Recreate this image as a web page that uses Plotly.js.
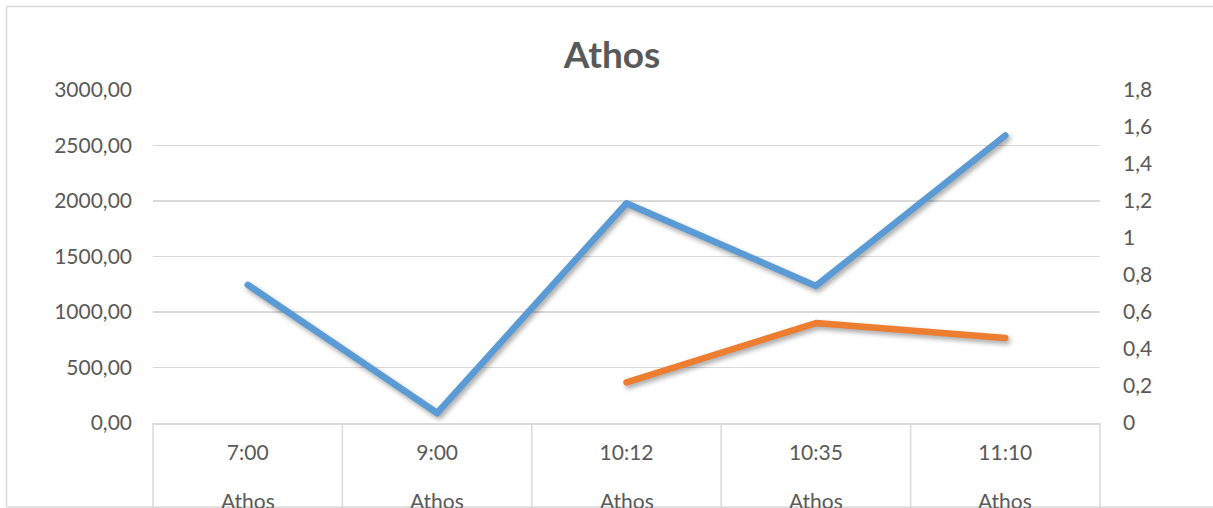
<!DOCTYPE html>
<html>
<head>
<meta charset="utf-8">
<script src="https://cdn.plot.ly/plotly-3.0.1.min.js"></script>
<style>
  html, body { margin: 0; padding: 0; background: #fff; }
  #chart { width: 1213px; height: 508px; }
  .scatterlayer .js-line {
    stroke-linecap: round !important;
    stroke-linejoin: round !important;
    filter: drop-shadow(2px 3px 2.5px rgba(0,0,0,0.35));
  }
</style>
</head>
<body>
<div id="chart"></div>
<script>
const categories = ['7:00', '9:00', '10:12', '10:35', '11:10'];
const groupLabels = ['Athos', 'Athos', 'Athos', 'Athos', 'Athos'];
const blueValues = [1245, 90, 1980, 1235, 2590];
const orangeValues = [null, null, 0.22, 0.54, 0.46];
const chartTitle = 'Athos';

const W = 1213, H = 508;
const M = { l: 153, r: 113, t: 90, b: 85 };
const pw = W - M.l - M.r, ph = H - M.t - M.b;
const textColor = '#595959';
const gridColor = '#D9D9D9';
const fontFamily = 'Lato, "Open Sans", sans-serif';

const idx = categories.map((c, i) => i);

const traces = [
  {
    x: idx, y: blueValues, type: 'scatter', mode: 'lines',
    line: { color: '#5B9BD5', width: 6.5 }, yaxis: 'y', hoverinfo: 'skip'
  },
  {
    x: idx, y: orangeValues, type: 'scatter', mode: 'lines',
    line: { color: '#ED7D31', width: 6.5 }, yaxis: 'y2', connectgaps: false, hoverinfo: 'skip'
  }
];

const shapes = [];
// category box dividers
for (let i = 0; i <= categories.length; i++) {
  shapes.push({
    type: 'line', xref: 'x domain', yref: 'paper',
    x0: i / categories.length, x1: i / categories.length,
    y0: 0, y1: -(M.b + 5) / ph,
    line: { color: gridColor, width: 1.5 }
  });
}
// outer chart border (left, top, bottom visible)
const bx0 = (6.5 - M.l) / pw, bx1 = (W + 60 - M.l) / pw;
const byTop = 1 + (M.t - 6.5) / ph, byBot = -(507 - (M.t + ph)) / ph;
shapes.push({ type: 'line', xref: 'paper', yref: 'paper', x0: bx0, x1: bx0, y0: byBot, y1: byTop, line: { color: gridColor, width: 1.5 } });
shapes.push({ type: 'line', xref: 'paper', yref: 'paper', x0: bx0, x1: bx1, y0: byTop, y1: byTop, line: { color: gridColor, width: 1.5 } });
shapes.push({ type: 'line', xref: 'paper', yref: 'paper', x0: bx0, x1: bx1, y0: byBot, y1: byBot, line: { color: gridColor, width: 1.5 } });

const annotations = idx.map(i => ({
  x: i, xref: 'x', y: -(500 - (M.t + ph)) / ph, yref: 'paper',
  text: groupLabels[i], showarrow: false, yanchor: 'middle',
  font: { family: fontFamily, size: 21, color: textColor }
}));

const layout = {
  width: W, height: H,
  margin: M,
  paper_bgcolor: '#fff', plot_bgcolor: '#fff',
  separators: ', ',
  showlegend: false,
  font: { family: fontFamily, size: 21, color: textColor },
  title: {
    text: '<b>' + chartTitle + '</b>',
    font: { family: fontFamily, size: 37, color: textColor },
    x: 612 / W, xanchor: 'center', xref: 'container',
    y: 1 - 55 / H, yanchor: 'middle', yref: 'container'
  },
  xaxis: {
    range: [-0.5, categories.length - 0.5],
    tickvals: idx, ticktext: categories,
    showgrid: false, zeroline: false,
    showline: true, linecolor: gridColor, linewidth: 1.5,
    ticks: '', ticklabelstandoff: 10,
    tickfont: { family: fontFamily, size: 21, color: textColor },
    fixedrange: true
  },
  yaxis: {
    range: [0, 3000], dtick: 500, tick0: 0,
    tickformat: '.2f',
    showgrid: true, gridcolor: gridColor, gridwidth: 1.2,
    zeroline: false, showline: false, ticks: '',
    ticklabelstandoff: 20,
    tickfont: { family: fontFamily, size: 21, color: textColor },
    fixedrange: true
  },
  yaxis2: {
    overlaying: 'y', side: 'right',
    range: [0, 1.8], dtick: 0.2, tick0: 0,
    showgrid: false, zeroline: false, showline: false, ticks: '',
    ticklabelstandoff: 22,
    tickfont: { family: fontFamily, size: 21, color: textColor },
    fixedrange: true
  },
  shapes: shapes,
  annotations: annotations
};

Plotly.newPlot('chart', traces, layout, { staticPlot: true, displayModeBar: false });
</script>
</body>
</html>
